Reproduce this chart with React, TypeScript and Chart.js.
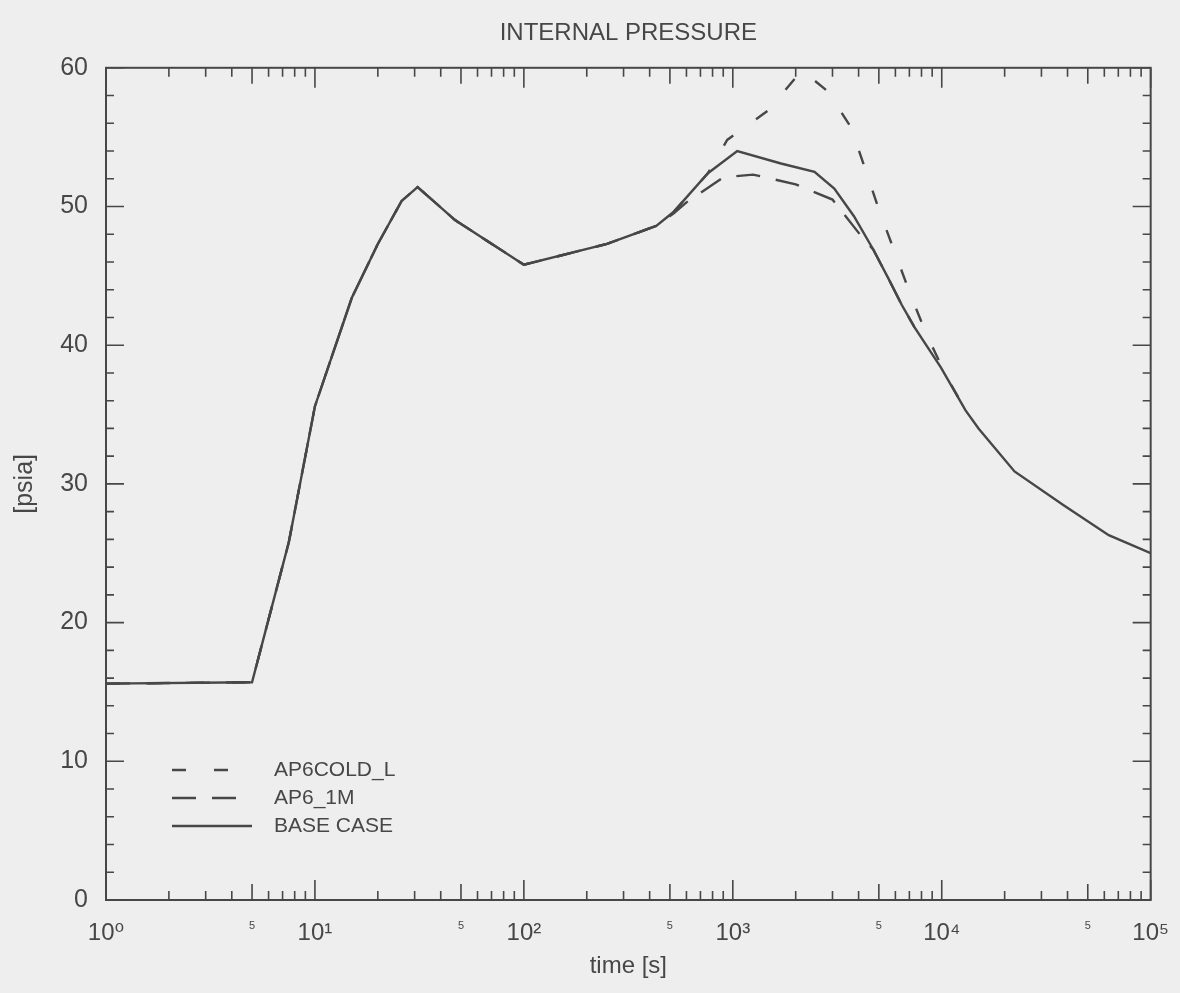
import React, { useEffect, useRef } from 'react';
import { Chart, registerables } from 'chart.js';

Chart.register(...registerables);

// ---- text ----
const TITLE = 'INTERNAL PRESSURE';
const X_TITLE = 'time [s]';
const Y_TITLE = '[psia]';

// ---- axis ticks ----
const X_TICK_VALUES = [1, 5, 10, 50, 100, 500, 1000, 5000, 10000, 50000, 100000];
const X_TICK_LABELS = ['10⁰', '5', '10¹', '5', '10²', '5', '10³', '5', '10⁴', '5', '10⁵'];
const Y_TICK_VALUES = [0, 10, 20, 30, 40, 50, 60];

// ---- series: BASE CASE ----
const baseTime = [1, 5, 7.5, 10, 15, 20, 26, 31, 47, 100, 250, 430, 520, 760, 1050, 1700, 2460, 3060, 3800, 4700, 5560, 6440, 7400, 9900, 13000, 15000, 22300, 38000, 63000, 100000];
const basePressure = [15.6, 15.7, 25.8, 35.6, 43.4, 47.3, 50.4, 51.4, 49.0, 45.8, 47.3, 48.6, 49.6, 52.4, 54.0, 53.1, 52.5, 51.3, 49.3, 46.9, 44.8, 42.9, 41.3, 38.4, 35.3, 34.0, 30.9, 28.5, 26.3, 25.0];

// ---- series: AP6_1M ----
const m1Time = [1, 5, 7.5, 10, 15, 20, 26, 31, 47, 100, 250, 430, 520, 600, 900, 1250, 2000, 3000, 4150, 4700, 5560, 6440, 7400];
const m1Pressure = [15.6, 15.7, 25.8, 35.6, 43.4, 47.3, 50.4, 51.4, 49.0, 45.8, 47.3, 48.6, 49.5, 50.3, 52.1, 52.3, 51.6, 50.5, 47.8, 46.9, 44.8, 42.9, 41.3];

// ---- series: AP6COLD_L ----
const coldTime = [1, 5, 7.5, 10, 15, 20, 26, 31, 47, 100, 250, 430, 520, 760, 940, 1470, 2030, 2150, 2850, 3680, 4350, 5050, 5960, 7100, 8500, 10500, 13000];
const coldPressure = [15.6, 15.7, 25.8, 35.6, 43.4, 47.3, 50.4, 51.4, 49.0, 45.8, 47.3, 48.6, 49.6, 52.4, 54.8, 56.9, 59.4, 59.8, 58.3, 55.7, 52.5, 49.6, 46.7, 43.6, 40.7, 37.8, 35.3];

const SERIES_LABELS = ['AP6COLD_L', 'AP6_1M', 'BASE CASE'];

const INK = '#474747';
const PAPER = '#eeeeee';
const FONT = "'Liberation Sans', 'DejaVu Sans', Arial, sans-serif";

const toPoints = (xs: number[], ys: number[]) => xs.map((x, i) => ({ x, y: ys[i] }));

const framePlugin = {
  id: 'frameTicks',
  beforeDraw(chart: any) {
    const { ctx, width, height } = chart;
    ctx.save();
    ctx.fillStyle = PAPER;
    ctx.fillRect(0, 0, width, height);
    ctx.restore();
  },
  afterDraw(chart: any) {
    const { ctx, chartArea: a } = chart;
    const xs = chart.scales.x;
    const ys = chart.scales.y;
    ctx.save();
    ctx.strokeStyle = INK;
    ctx.lineWidth = 2;
    ctx.strokeRect(a.left, a.top, a.right - a.left, a.bottom - a.top);

    // x ticks (log) on bottom and top, inward
    ctx.lineWidth = 1.6;
    ctx.beginPath();
    for (let d = 1; d <= 100000; d *= 10) {
      for (let m = 1; m <= 9; m++) {
        const v = m * d;
        if (v > 100000) break;
        const px = xs.getPixelForValue(v);
        const len = m === 1 ? 20 : m === 5 ? 16 : 9;
        ctx.moveTo(px, a.bottom);
        ctx.lineTo(px, a.bottom - len);
        ctx.moveTo(px, a.top);
        ctx.lineTo(px, a.top + len);
      }
    }
    // y ticks every 2, major every 10
    for (let v = 0; v <= 60; v += 2) {
      const py = ys.getPixelForValue(v);
      const len = v % 10 === 0 ? 18 : 8;
      ctx.moveTo(a.left, py);
      ctx.lineTo(a.left + len, py);
      ctx.moveTo(a.right, py);
      ctx.lineTo(a.right - len, py);
    }
    ctx.stroke();

    // legend inside plot area (bottom-left)
    const rows = [130, 102, 74];
    ctx.font = `21px ${FONT}`;
    ctx.textBaseline = 'middle';
    ctx.textAlign = 'left';
    ctx.fillStyle = INK;
    chart.data.datasets.forEach((ds: any, i: number) => {
      const y = a.bottom - rows[i];
      ctx.lineWidth = ds.borderWidth;
      ctx.setLineDash(ds.borderDash || []);
      ctx.beginPath();
      ctx.moveTo(a.left + 66, y);
      ctx.lineTo(a.left + 146, y);
      ctx.stroke();
      ctx.setLineDash([]);
      ctx.fillText(ds.label, a.left + 168, y);
    });
    ctx.restore();
  },
};

export default function App() {
  const canvasRef = useRef<HTMLCanvasElement | null>(null);

  useEffect(() => {
    if (!canvasRef.current) return;
    const chart = new Chart(canvasRef.current, {
      type: 'line',
      data: {
        datasets: [
          {
            label: SERIES_LABELS[0],
            data: toPoints(coldTime, coldPressure),
            borderColor: INK,
            borderWidth: 2.4,
            borderDash: [14, 28],
            pointRadius: 0,
            tension: 0,
            fill: false,
          },
          {
            label: SERIES_LABELS[1],
            data: toPoints(m1Time, m1Pressure),
            borderColor: INK,
            borderWidth: 2.4,
            borderDash: [24, 16],
            pointRadius: 0,
            tension: 0,
            fill: false,
          },
          {
            label: SERIES_LABELS[2],
            data: toPoints(baseTime, basePressure),
            borderColor: INK,
            borderWidth: 2.4,
            pointRadius: 0,
            tension: 0,
            fill: false,
          },
        ],
      },
      options: {
        animation: false,
        responsive: true,
        maintainAspectRatio: false,
        layout: { padding: { left: 0, right: 25, top: 0, bottom: 0 } },
        plugins: {
          legend: { display: false },
          tooltip: { enabled: false },
          title: {
            display: true,
            text: TITLE,
            fullSize: false,
            color: INK,
            font: { family: FONT, size: 24, weight: 'normal' },
            padding: { top: 19, bottom: 20 },
          },
        },
        scales: {
          x: {
            type: 'logarithmic',
            min: 1,
            max: 100000,
            afterBuildTicks: (s: any) => {
              s.ticks = X_TICK_VALUES.map((v) => ({ value: v }));
            },
            afterFit: (s: any) => {
              s.height = 93;
            },
            grid: { display: false },
            border: { display: false },
            ticks: {
              autoSkip: false,
              maxRotation: 0,
              padding: 11,
              color: INK,
              font: (c: any) =>
                c.index % 2 === 1
                  ? { family: FONT, size: 11 }
                  : { family: FONT, size: 24 },
              callback: (_v: any, i: number) => X_TICK_LABELS[i],
            },
            title: {
              display: true,
              text: X_TITLE,
              color: INK,
              font: { family: FONT, size: 24 },
              padding: { top: 0, bottom: 12 },
            },
          },
          y: {
            type: 'linear',
            min: 0,
            max: 60,
            afterBuildTicks: (s: any) => {
              s.ticks = Y_TICK_VALUES.map((v) => ({ value: v }));
            },
            afterFit: (s: any) => {
              s.width = 106;
            },
            grid: { display: false },
            border: { display: false },
            ticks: {
              padding: 10,
              color: INK,
              font: { family: FONT, size: 25 },
              callback: (v: any) => String(v),
            },
            title: {
              display: true,
              text: Y_TITLE,
              color: INK,
              font: { family: FONT, size: 25 },
              padding: { top: 10, bottom: 0 },
            },
          },
        },
      },
      plugins: [framePlugin],
    });
    return () => chart.destroy();
  }, []);

  return (
    <div
      style={{
        position: 'absolute',
        left: 0,
        top: 0,
        width: '1180px',
        height: '993px',
        background: PAPER,
      }}
    >
      <canvas ref={canvasRef} />
    </div>
  );
}
